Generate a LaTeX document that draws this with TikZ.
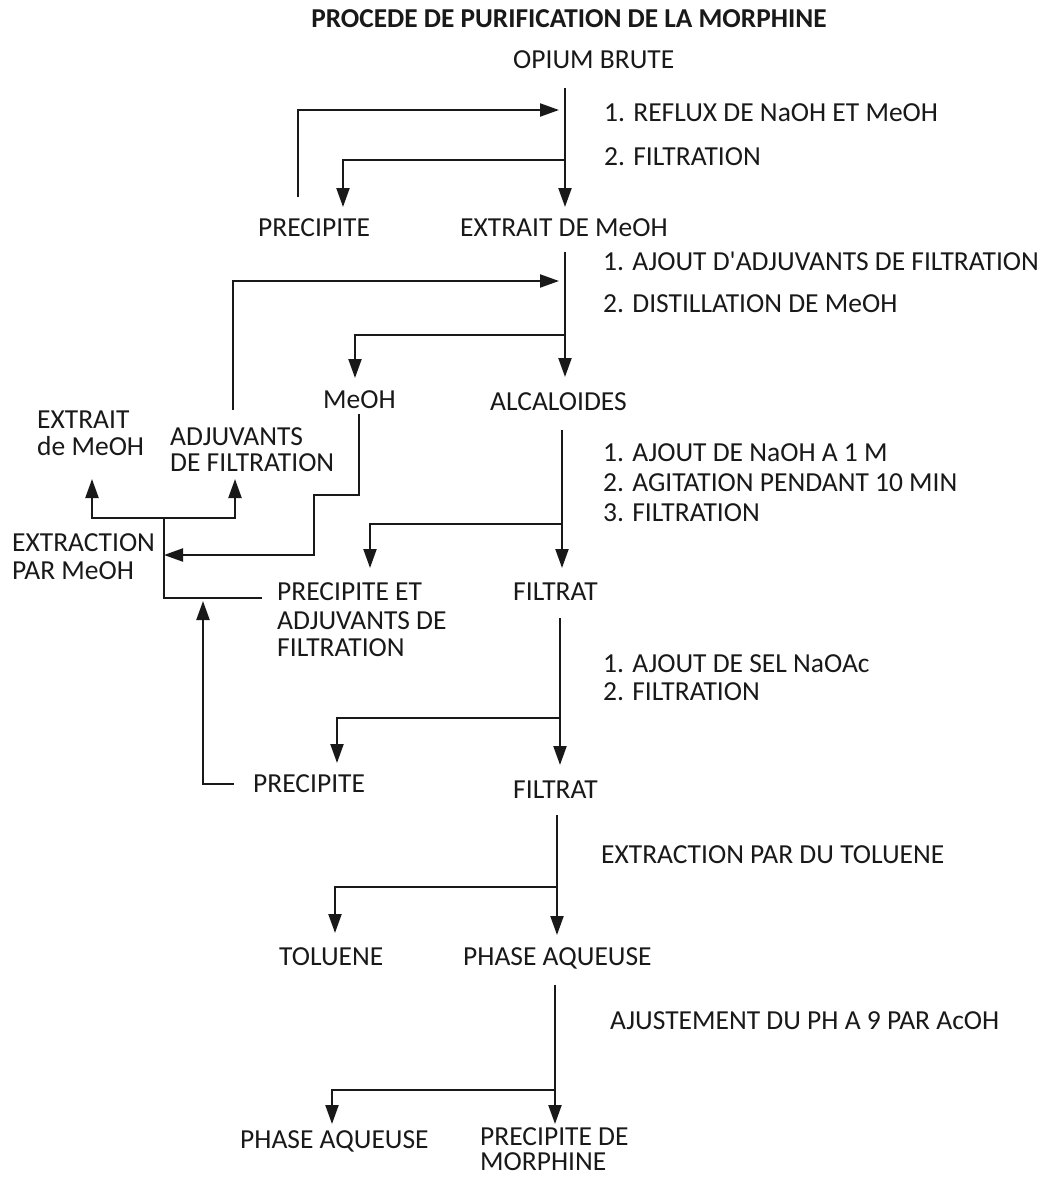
\documentclass[tikz,border=0pt]{standalone}
\usepackage{fontspec}
\setmainfont{Carlito}[Ligatures=TeXOff]
\usetikzlibrary{arrows.meta}
\definecolor{ink}{RGB}{25,25,25}
\tikzset{
  lbl/.style={inner sep=0pt, text height=17pt, text depth=0pt, anchor=west, text=ink,
    font=\fontsize{27.5}{30}\selectfont},
  ttl/.style={inner sep=0pt, text height=17pt, text depth=0pt, text=ink,
    font=\fontsize{27.3}{30}\selectfont\bfseries},
  ln/.style={line width=2.2pt, draw=ink},
  arr/.style={ln, -{Triangle[length=19pt,width=13pt]}},
}
\begin{document}
\begin{tikzpicture}[x=1pt,y=-1pt]
\useasboundingbox[fill=white] (0,0) rectangle (1047,1178);
% labels
\node[ttl] (title) at (569,19) {PROCEDE DE PURIFICATION DE LA MORPHINE};
\node[lbl] (opium) at (513,60) {OPIUM BRUTE};
\node[lbl] (s1a) at (604,113) {1. REFLUX DE NaOH ET MeOH};
\node[lbl] (s1b) at (604,157) {2. FILTRATION};
\node[lbl] (precA) at (258,228) {PRECIPITE};
\node[lbl] (extrait) at (460,228) {EXTRAIT DE MeOH};
\node[lbl] (s2a) at (603,262) {1. AJOUT D'ADJUVANTS DE FILTRATION};
\node[lbl] (s2b) at (603,304) {2. DISTILLATION DE MeOH};
\node[lbl] (meoh) at (323,400) {MeOH};
\node[lbl] (alcal) at (490,402) {ALCALOIDES};
\node[lbl] (extL1) at (37,420) {EXTRAIT};
\node[lbl] (extL2) at (37,447) {de MeOH};
\node[lbl] (adj1) at (170,437) {ADJUVANTS};
\node[lbl] (adj2) at (170,463) {DE FILTRATION};
\node[lbl] (exm1) at (12,543) {EXTRACTION};
\node[lbl] (exm2) at (12,571) {PAR MeOH};
\node[lbl] (s3a) at (603,453) {1. AJOUT DE NaOH A 1 M};
\node[lbl] (s3b) at (603,483) {2. AGITATION PENDANT 10 MIN};
\node[lbl] (s3c) at (603,513) {3. FILTRATION};
\node[lbl] (pa1) at (277,592) {PRECIPITE ET};
\node[lbl] (pa2) at (277,621) {ADJUVANTS DE};
\node[lbl] (pa3) at (277,648) {FILTRATION};
\node[lbl] (filtA) at (513,592) {FILTRAT};
\node[lbl] (s4a) at (603,664) {1. AJOUT DE SEL NaOAc};
\node[lbl] (s4b) at (603,692) {2. FILTRATION};
\node[lbl] (precB) at (253,784) {PRECIPITE};
\node[lbl] (filtB) at (513,790) {FILTRAT};
\node[lbl] (s5) at (601,855) {EXTRACTION PAR DU TOLUENE};
\node[lbl] (tol) at (279,957) {TOLUENE};
\node[lbl] (phA) at (463,957) {PHASE AQUEUSE};
\node[lbl] (s6) at (610,1021) {AJUSTEMENT DU PH A 9 PAR AcOH};
\node[lbl] (phB) at (240,1140) {PHASE AQUEUSE};
\node[lbl] (mor1) at (480,1137) {PRECIPITE DE};
\node[lbl] (mor2) at (480,1162) {MORPHINE};
% junction coordinates
\coordinate (t1) at (565,88);  \coordinate (j1) at (565,160);
\coordinate (t2) at (565,252); \coordinate (j2) at (565,335);
\coordinate (t3) at (562,430); \coordinate (j3) at (562,524);
\coordinate (t4) at (560,618); \coordinate (j4) at (560,718);
\coordinate (t5) at (557,815); \coordinate (j5) at (557,887);
\coordinate (t6) at (555,985); \coordinate (j6) at (555,1090);
% step 1
\draw[arr] (t1) -- (565,207);
\draw[arr] (j1) -| (343,207);
\draw[arr] (298,197) |- (559,110);
% step 2
\draw[arr] (t2) -- (565,377);
\draw[arr] (j2) -| (355,378);
\draw[arr] (233,410) |- (559,281);
% step 3
\draw[arr] (t3) -- (562,568);
\draw[arr] (j3) -| (370,568);
% step 4
\draw[arr] (t4) -- (560,765);
\draw[arr] (j4) -| (337,763);
% step 5
\draw[arr] (t5) -- (557,935);
\draw[arr] (j5) -| (335,933);
% step 6
\draw[arr] (t6) -- (555,1124);
\draw[arr] (j6) -| (332,1124);
% left recycling tree
\coordinate (k) at (164,518);
\draw[arr] (k) -| (92,479);
\draw[arr] (k) -| (235,479);
\draw[ln] (k) -- (164,598) -- (262,598);
\draw[arr] (359,414) -- (359,495) -- (314,495) -- (314,555) -- (164,555);
\draw[arr] (234,784) -- (203,784) -- (203,601);
\end{tikzpicture}
\end{document}
